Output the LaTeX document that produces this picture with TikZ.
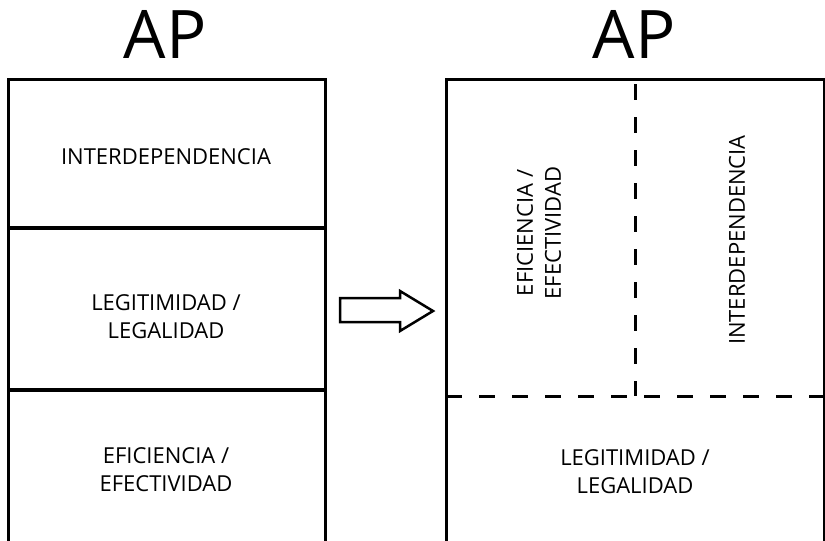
\documentclass[tikz,border=0pt]{standalone}
\usepackage{fontspec}
\setmainfont{Open Sans}
\begin{document}
\begin{tikzpicture}[x=1pt,y=-1pt,
  frame/.style={line width=3pt,line join=miter},
  divider/.style={line width=4.5pt},
  dashdiv/.style={line width=3pt,dash pattern=on 16pt off 17pt},
  lbl/.style={font=\fontsize{22}{28}\selectfont,align=center,inner sep=0pt},
  title/.style={font=\fontsize{67}{80}\selectfont,inner sep=0pt,anchor=base}]
\useasboundingbox (0,0) rectangle (825,541);
% titles
\node[title] (t1) at (165,58) {AP};
\node[title] (t2) at (634,58) {AP};
% left box
\draw[frame] (8,545) -- (8,79) -- (325,79) -- (325,545);
\draw[divider] (8,228) -- (325,228);
\draw[divider] (8,390) -- (325,390);
\node[lbl] (l1) at (166,157) {INTERDEPENDENCIA};
\node[lbl] (l2) at (166,317) {LEGITIMIDAD /\\LEGALIDAD};
\node[lbl] (l3) at (166,470) {EFICIENCIA /\\EFECTIVIDAD};
% arrow
\draw[line width=2.5pt,line join=miter] (340,298) -- (400,298) -- (400,291) -- (433,311) -- (400,331) -- (400,322) -- (340,322) -- cycle;
% right box
\draw[frame] (446,545) -- (446,79) -- (824,79) -- (824,545);
\draw[dashdiv] (446,396) -- (824,396);
\draw[dashdiv] (635,84) -- (635,396);
\node[lbl,rotate=90] (r1) at (539,233) {EFICIENCIA /\\EFECTIVIDAD};
\node[lbl,rotate=90] (r2) at (737,240) {INTERDEPENDENCIA};
\node[lbl] (r3) at (635,472) {LEGITIMIDAD /\\LEGALIDAD};
\end{tikzpicture}
\end{document}
